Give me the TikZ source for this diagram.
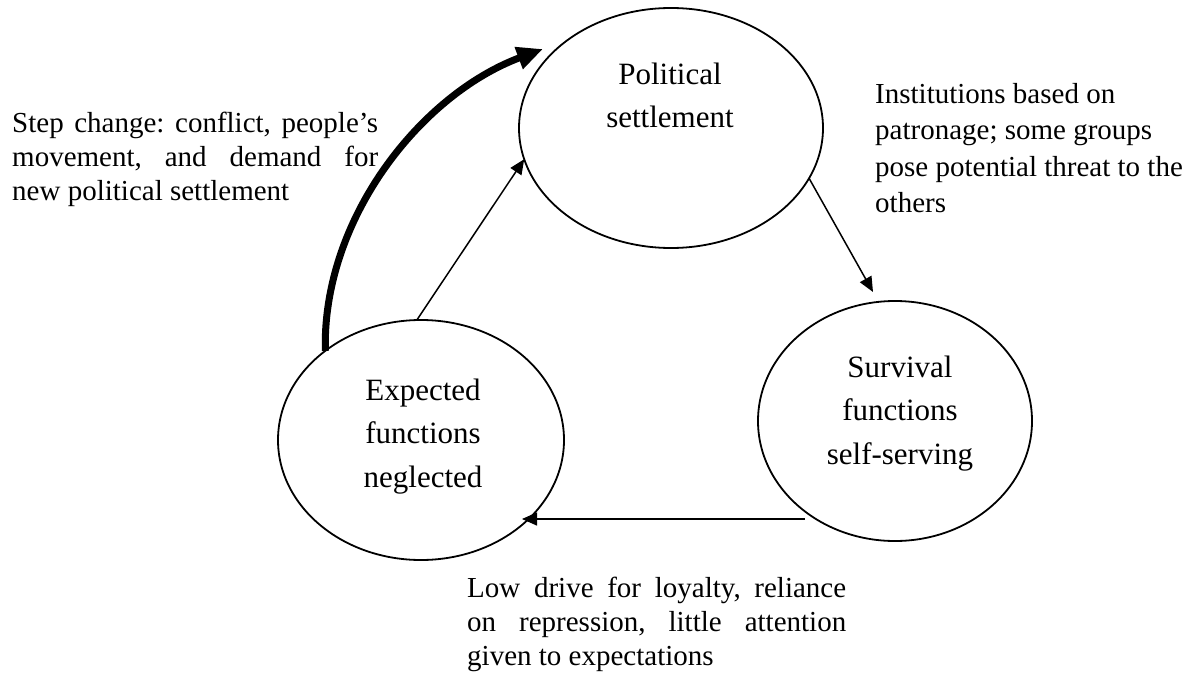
\documentclass[tikz,border=0pt]{standalone}
\usepackage{fontspec}
\setmainfont{Liberation Serif}
\usetikzlibrary{arrows.meta,shapes.geometric}
\frenchspacing

\begin{document}
\begin{tikzpicture}[x=1pt,y=-1pt,
  bubble/.style={draw, ellipse, line width=1.8pt, inner sep=0pt, outer sep=0pt},
  bubbletext/.style={font=\fontsize{31}{43.5}\selectfont, align=center, inner sep=0pt, anchor=north},
  note/.style={font=\fontsize{29}{34}\selectfont, align=left, inner sep=0pt, anchor=north west},
  link/.style={line width=1.5pt, -{Triangle[length=15pt,width=13pt]}},
  bigarrow/.style={line width=7pt, -{Triangle[length=26pt,width=22pt]}}
]
% canvas
\fill[white] (0,0) rectangle (1194,682);
\useasboundingbox (0,0) rectangle (1194,682);

% the three states of the cycle
\node[bubble, minimum width=304pt, minimum height=240pt] (pol)  at (671,128) {};
\node[bubble, minimum width=274pt, minimum height=240pt] (surv) at (895,421) {};
\node[bubble, minimum width=286pt, minimum height=240pt] (exp)  at (421,440) {};

\node[bubbletext] (poltext)  at (670,53.5)  {\strut Political\\settlement};
\node[bubbletext] (survtext) at (900,346.5) {\strut Survival\\functions\\self-serving};
\node[bubbletext] (exptext)  at (423,369.5) {\strut Expected\\functions\\neglected};

% free ends of the connectors
\coordinate (steptip) at (543,49);
\coordinate (survtip) at (873,292);
\coordinate (loopstart) at (805,519);
\coordinate (exptip) at (522,519);

% connectors
\draw[bigarrow] (exp.137) .. controls (322,220) and (420,95) .. (steptip);
\draw[link] (exp.92) -- (pol.192);
\draw[link] (pol.-20) -- (survtip);
\draw[link] (loopstart) -- (exptip);

% explanatory notes
\node[note] (stepnote) at (12,108.9)
  {\strut\makebox[366pt][s]{Step change: conflict, people's}\\
   \makebox[366pt][s]{movement, and demand for}\\
   new political settlement};
\node[note, font=\fontsize{29}{36.5}\selectfont] (instnote) at (875,77.7)
  {\strut Institutions based on\\
   patronage; some groups\\
   pose potential threat to the\\
   others};
\node[note] (lownote) at (467,573.2)
  {\strut\makebox[379pt][s]{Low drive for loyalty, reliance}\\
   \makebox[379pt][s]{on repression, little attention}\\
   given to expectations};
\end{tikzpicture}
\end{document}
